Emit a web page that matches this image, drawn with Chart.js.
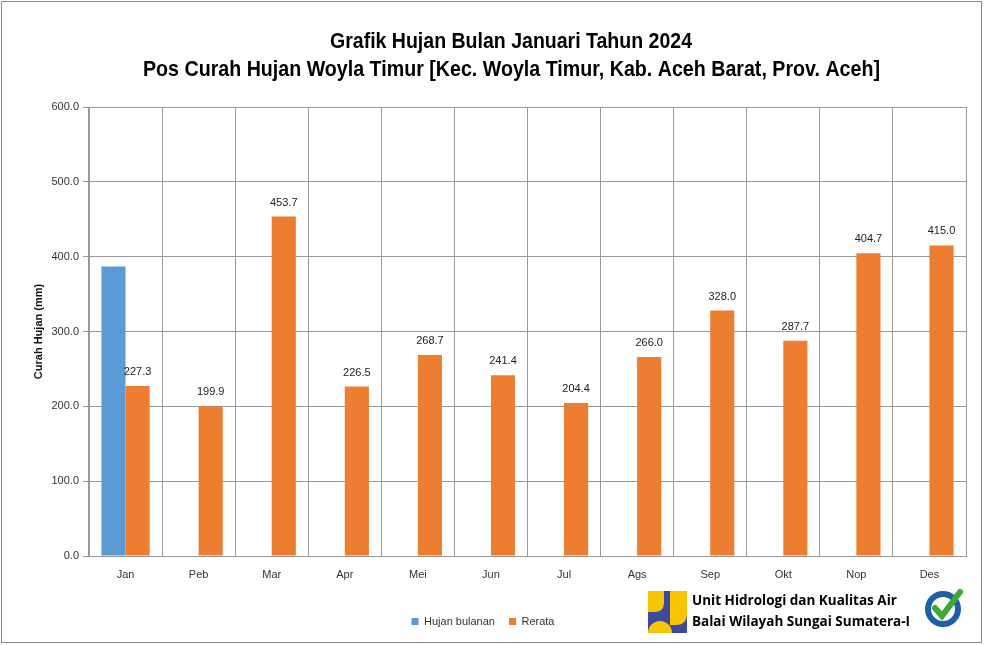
<!DOCTYPE html>
<html><head><meta charset="utf-8">
<script src="https://cdn.jsdelivr.net/npm/chart.js@4.4.1/dist/chart.umd.min.js"></script>
<style>html,body{margin:0;padding:0;background:#fff}#wrap{width:984px;height:645px}</style>
</head><body><div id="wrap"><canvas id="c" width="984" height="645"></canvas></div>
<script>
const categories = ['Jan','Peb','Mar','Apr','Mei','Jun','Jul','Ags','Sep','Okt','Nop','Des'];
const hujanBulanan = [387.0,null,null,null,null,null,null,null,null,null,null,null];
const rerata = [227.3,199.9,453.7,226.5,268.7,241.4,204.4,266.0,328.0,287.7,404.7,415.0];
const yTicks = [0,100,200,300,400,500,600];
const titleLines = ['Grafik Hujan Bulan Januari Tahun 2024','Pos Curah Hujan Woyla Timur [Kec. Woyla Timur, Kab. Aceh Barat, Prov. Aceh]'];

function narrowText(ctx, text, cx, cy, targetW){
  const w = ctx.measureText(text).width;
  const s = targetW / w;
  ctx.save();
  ctx.translate(cx, cy);
  ctx.scale(s, 1);
  ctx.fillText(text, 0, 0);
  ctx.restore();
}

const deco = {
  id:'deco',
  afterDraw(chart){
    const ctx = chart.ctx;
    ctx.save();
    ctx.strokeStyle = '#8a8a8a'; ctx.lineWidth = 1;
    ctx.strokeRect(1.5,1.5,980,641);
    ctx.fillStyle = '#000'; ctx.textAlign='center'; ctx.textBaseline='middle';
    ctx.font = 'bold 22px "Liberation Sans", Arial, sans-serif';
    narrowText(ctx, titleLines[0], 511, 42, 362);
    narrowText(ctx, titleLines[1], 511.5, 70, 737);
    const meta = chart.getDatasetMeta(1);
    ctx.font = '11px "Liberation Sans", Arial, sans-serif';
    ctx.fillStyle = '#222';
    meta.data.forEach((bar,i)=>{
      const v = rerata[i];
      if (v==null) return;
      ctx.fillText(v.toFixed(1), bar.x, bar.y - 14);
    });
    // PU logo
    const lx=648, ly=591, sz=39;
    ctx.fillStyle='#3b4aa0';
    ctx.fillRect(lx,ly,sz,42);
    ctx.fillStyle='#f7c600';
    ctx.beginPath();
    ctx.moveTo(lx,ly); ctx.lineTo(lx+16,ly); ctx.lineTo(lx+16,ly+12);
    ctx.quadraticCurveTo(lx+16,ly+21,lx+6,ly+21); ctx.lineTo(lx,ly+21); ctx.closePath(); ctx.fill();
    ctx.beginPath();
    ctx.moveTo(lx+22,ly); ctx.lineTo(lx+39,ly); ctx.lineTo(lx+39,ly+22);
    ctx.quadraticCurveTo(lx+39,ly+34,lx+28,ly+34); ctx.lineTo(lx+22,ly+34); ctx.closePath(); ctx.fill();
    ctx.beginPath(); ctx.arc(lx+12,ly+42,12,Math.PI,0); ctx.closePath(); ctx.fill();
    // texts
    ctx.fillStyle='#000'; ctx.textAlign='left';
    ctx.font = 'bold 13.5px "Open Sans", "Noto Sans", sans-serif';
    ctx.fillText('Unit Hidrologi dan Kualitas Air', 692, 601);
    ctx.fillText('Balai Wilayah Sungai Sumatera-I', 692, 622);
    // badge
    const bx=943, by=609;
    ctx.strokeStyle='#1f5fa8'; ctx.lineWidth=6;
    ctx.beginPath(); ctx.arc(bx,by,15,0,Math.PI*2); ctx.stroke();
    ctx.strokeStyle='#3aa935'; ctx.lineWidth=6; ctx.lineCap='round';
    ctx.beginPath(); ctx.moveTo(bx-8,by-1); ctx.lineTo(bx-1,by+7); ctx.lineTo(bx+17,by-17); ctx.stroke();
    ctx.restore();
  }
};

new Chart(document.getElementById('c'),{
  type:'bar',
  data:{labels:categories,datasets:[
    {label:'Hujan bulanan',data:hujanBulanan,backgroundColor:'#5B9BD5',categoryPercentage:0.66,barPercentage:1},
    {label:'Rerata',data:rerata,backgroundColor:'#ED7D31',categoryPercentage:0.66,barPercentage:1}
  ]},
  options:{
    responsive:false,animation:false,
    layout:{padding:{left:0,right:18,top:107,bottom:8}},
    plugins:{
      title:{display:false},
      tooltip:{enabled:false},
      legend:{position:'bottom',labels:{boxWidth:7,boxHeight:7,padding:14,color:'#333',font:{family:'"Liberation Sans", Arial, sans-serif',size:11}}}
    },
    scales:{
      x:{grid:{color:'#9a9a9a',drawTicks:false,offset:true},border:{color:'#9a9a9a'},
         ticks:{color:'#333',padding:12,font:{family:'"Liberation Sans", Arial, sans-serif',size:11}},
         afterFit(s){s.height=46;}},
      y:{min:0,max:600,grid:{color:'#9a9a9a',tickLength:6},border:{color:'#9a9a9a'},
         afterBuildTicks(s){s.ticks=yTicks.map(v=>({value:v}));},
         ticks:{color:'#333',padding:4,callback:v=>v.toFixed(1),font:{family:'"Liberation Sans", Arial, sans-serif',size:11}},
         title:{display:true,text:'Curah Hujan (mm)',color:'#111',font:{family:'"Liberation Sans", Arial, sans-serif',size:11,weight:'bold'},padding:{top:32,bottom:0}},
         afterFit(s){s.width=89;}}
    }
  },
  plugins:[deco]
});
</script></body></html>
